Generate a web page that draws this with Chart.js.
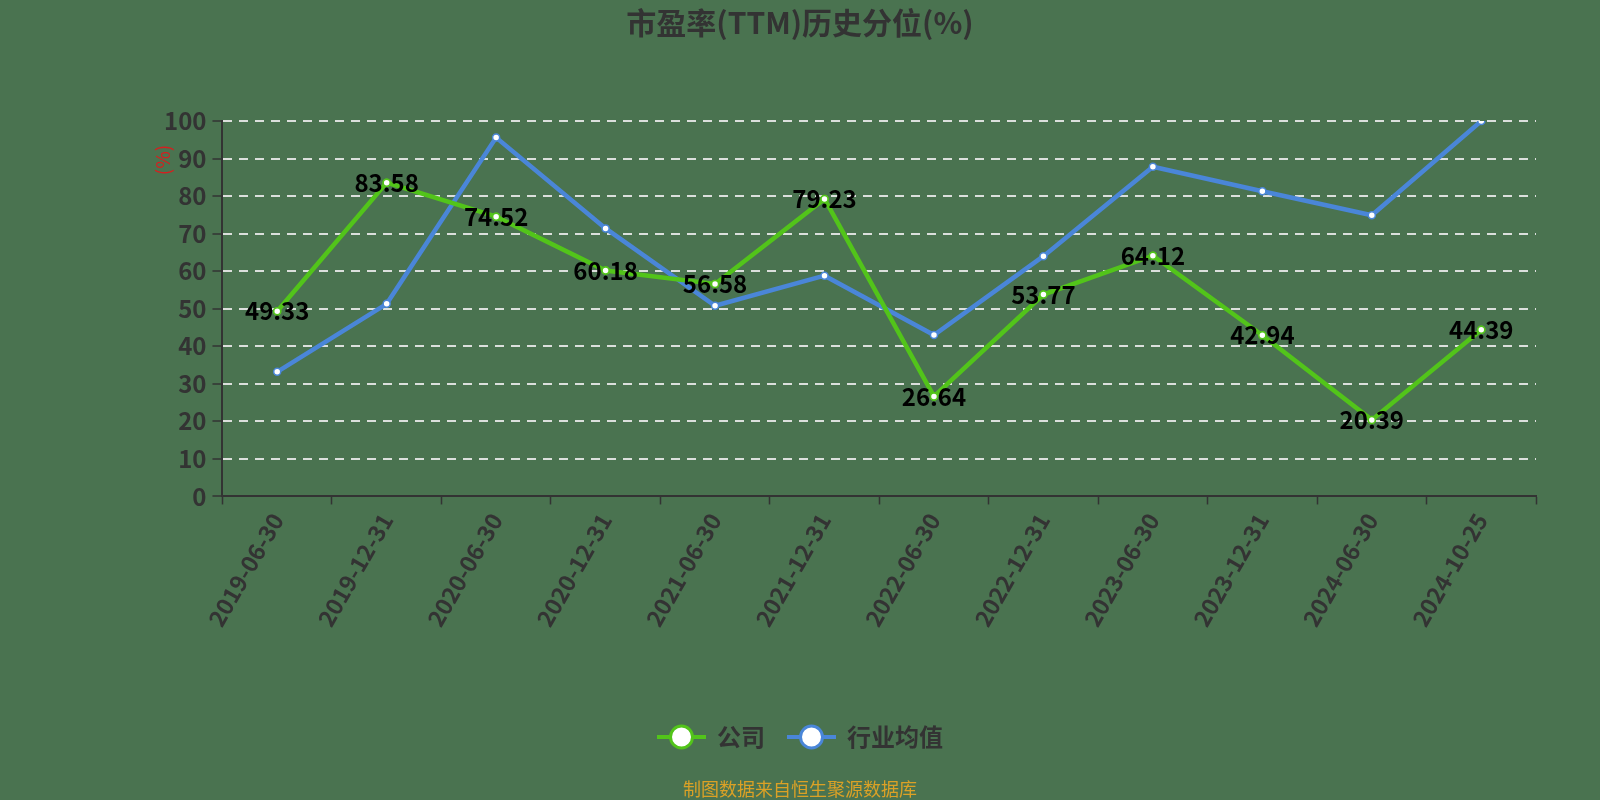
<!DOCTYPE html>
<html>
<head>
<meta charset="utf-8">
<script src="https://cdn.jsdelivr.net/npm/chart.js@4.4.0/dist/chart.umd.min.js"></script>
<style>
  body { margin: 0; background: #4a7350; }
  #wrap { width: 1600px; height: 800px; position: relative; }
</style>
</head>
<body>
<div id="wrap"><canvas id="peChart"></canvas></div>
<script>
// 数据
const categories = ['2019-06-30', '2019-12-31', '2020-06-30', '2020-12-31', '2021-06-30', '2021-12-31',
    '2022-06-30', '2022-12-31', '2023-06-30', '2023-12-31', '2024-06-30', '2024-10-25'];
const companyValues = [49.33, 83.58, 74.52, 60.18, 56.58, 79.23, 26.64, 53.77, 64.12, 42.94, 20.39, 44.39];
const industryValues = [33.2, 51.3, 95.6, 71.4, 50.8, 58.8, 43.0, 64.0, 87.8, 81.3, 74.9, 100];
const yTicks = [0, 10, 20, 30, 40, 50, 60, 70, 80, 90, 100];

const FONT = '"Noto Sans CJK SC", "Noto Sans", sans-serif';
const GREEN = '#52c41a';
const BLUE = '#4a86d8';
const DARK = '#333333';

// 标题、图例、数值标签、脚注
const decorPlugin = {
    id: 'decor',
    afterDatasetsDraw(chart) {
        const ctx = chart.ctx;
        const meta = chart.getDatasetMeta(0);
        ctx.save();
        ctx.font = 'bold 24px ' + FONT;
        ctx.fillStyle = '#000';
        ctx.textAlign = 'center';
        ctx.textBaseline = 'middle';
        meta.data.forEach((pt, i) => {
            ctx.fillText(companyValues[i].toFixed(2), pt.x, pt.y);
        });
        ctx.restore();
        // 点画在文字上面
        meta.data.forEach(pt => pt.draw(ctx));
    },
    afterDraw(chart) {
        const ctx = chart.ctx;
        const area = chart.chartArea;
        ctx.save();

        // 标题
        ctx.font = 'bold 30px ' + FONT;
        ctx.fillStyle = DARK;
        ctx.textAlign = 'center';
        ctx.textBaseline = 'middle';
        ctx.fillText('市盈率(TTM)历史分位(%)', 800, 23);

        // 纵轴单位
        ctx.save();
        ctx.translate(area.left - 60, area.top + 39);
        ctx.rotate(-Math.PI / 2);
        ctx.font = '19px ' + FONT;
        ctx.fillStyle = '#d42020';
        ctx.fillText('(%)', 0, 0);
        ctx.restore();

        // 图例
        ctx.font = 'bold 24px ' + FONT;
        ctx.textAlign = 'left';
        const items = chart.data.datasets.map(ds => ({ label: ds.label, color: ds.borderColor }));
        const markerW = 49, gapText = 11, gapItem = 22;
        let total = 0;
        items.forEach((it, i) => {
            it.w = ctx.measureText(it.label).width;
            total += markerW + gapText + it.w + (i < items.length - 1 ? gapItem : 0);
        });
        let x = 800 - total / 2;
        const ly = 737;
        items.forEach(it => {
            ctx.strokeStyle = it.color;
            ctx.lineWidth = 4;
            ctx.beginPath();
            ctx.moveTo(x, ly);
            ctx.lineTo(x + markerW, ly);
            ctx.stroke();
            ctx.beginPath();
            ctx.arc(x + markerW / 2, ly, 11, 0, Math.PI * 2);
            ctx.fillStyle = '#fff';
            ctx.fill();
            ctx.lineWidth = 3;
            ctx.stroke();
            ctx.fillStyle = DARK;
            ctx.fillText(it.label, x + markerW + gapText, ly);
            x += markerW + gapText + it.w + gapItem;
        });

        // 脚注
        ctx.font = '18px ' + FONT;
        ctx.fillStyle = '#dba126';
        ctx.textAlign = 'center';
        ctx.fillText('制图数据来自恒生聚源数据库', 800, 789);
        ctx.restore();
    }
};

const ctx = document.getElementById('peChart').getContext('2d');
new Chart(ctx, {
    type: 'line',
    data: {
        labels: categories,
        datasets: [
            {
                label: '公司',
                data: companyValues,
                borderColor: GREEN,
                backgroundColor: '#fff',
                borderWidth: 4.5,
                pointRadius: 3.5,
                pointBorderWidth: 1.5,
                pointBackgroundColor: '#fff',
                pointBorderColor: GREEN,
                tension: 0
            },
            {
                label: '行业均值',
                data: industryValues,
                borderColor: BLUE,
                backgroundColor: '#fff',
                borderWidth: 4.5,
                pointRadius: 3.5,
                pointBorderWidth: 1.5,
                pointBackgroundColor: '#fff',
                pointBorderColor: BLUE,
                tension: 0
            }
        ]
    },
    options: {
        responsive: true,
        maintainAspectRatio: false,
        animation: false,
        layout: { padding: { top: 121, left: 158, right: 64, bottom: 165 } },
        plugins: {
            legend: { display: false },
            title: { display: false },
            tooltip: { enabled: false }
        },
        scales: {
            x: {
                offset: true,
                grid: {
                    offset: true,
                    drawOnChartArea: false,
                    drawTicks: true,
                    tickLength: 8,
                    tickColor: DARK,
                    tickWidth: 1.5
                },
                border: { display: true, color: DARK, width: 2 },
                ticks: {
                    color: DARK,
                    font: { family: FONT, size: 23, weight: 'bold' },
                    minRotation: 60,
                    maxRotation: 60,
                    autoSkip: false,
                    padding: 4
                }
            },
            y: {
                min: 0,
                max: 100,
                afterBuildTicks(scale) {
                    scale.ticks = yTicks.map(v => ({ value: v }));
                },
                grid: {
                    color: 'rgba(235,235,235,0.9)',
                    lineWidth: 2,
                    drawTicks: true,
                    tickLength: 10,
                    tickColor: DARK,
                    tickWidth: 1.5
                },
                border: { display: true, color: DARK, width: 2, dash: [9, 7] },
                ticks: {
                    color: DARK,
                    font: { family: FONT, size: 24, weight: 'bold' },
                    padding: 6
                }
            }
        }
    },
    plugins: [decorPlugin]
});
</script>
</body>
</html>
